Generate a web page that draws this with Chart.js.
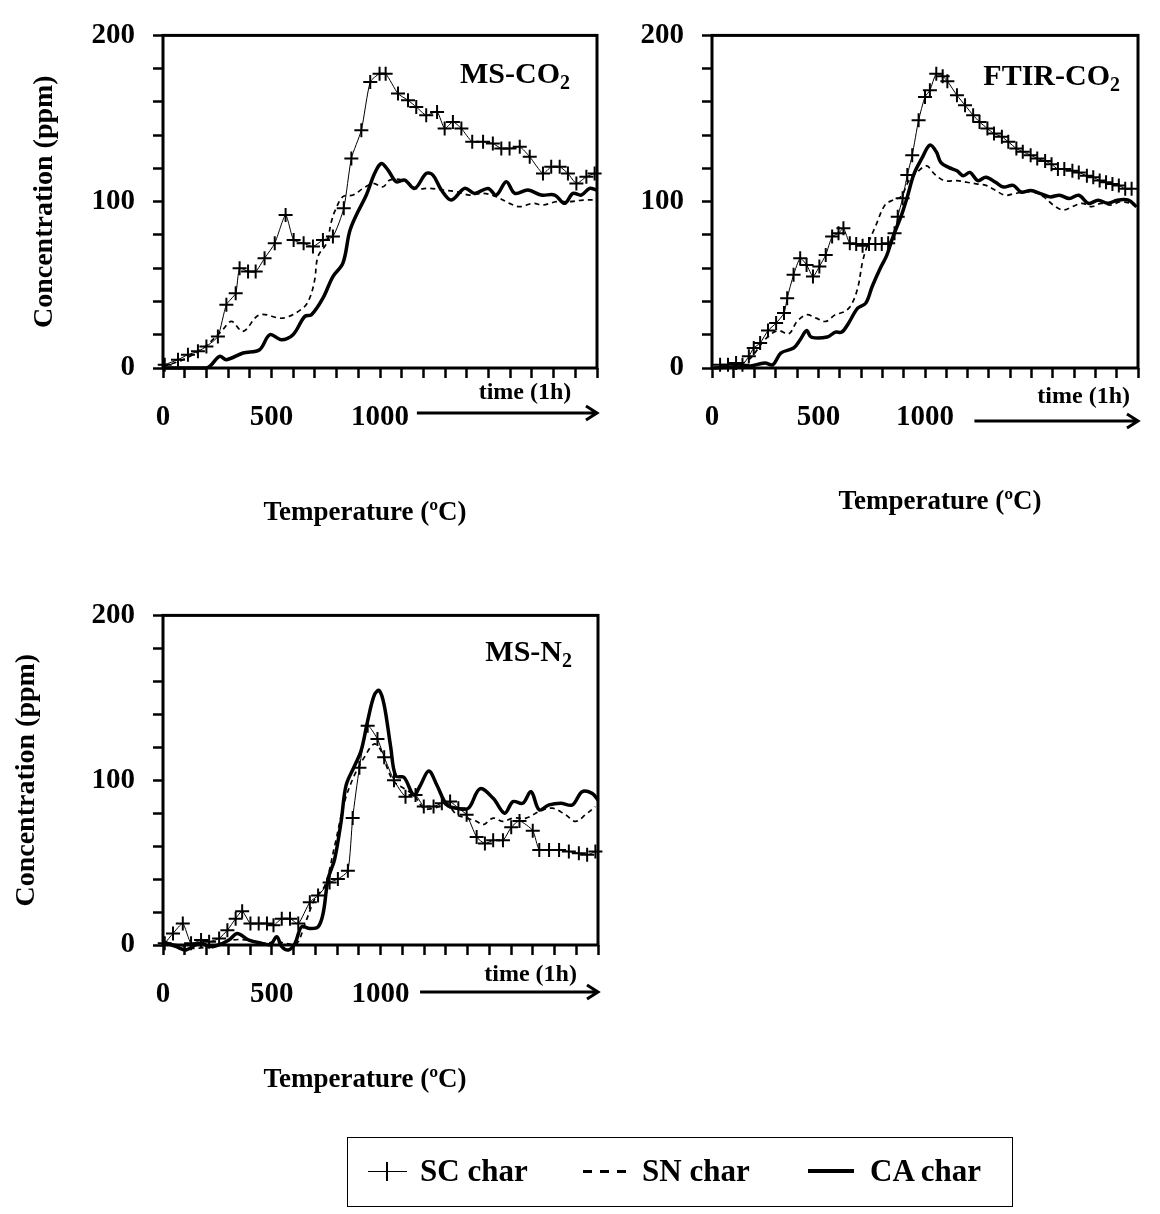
<!DOCTYPE html>
<html>
<head>
<meta charset="utf-8">
<script src="https://cdn.jsdelivr.net/npm/chart.js"></script>
<style>
  body { margin: 0; background: #fff; width: 1160px; height: 1214px; position: relative; overflow: hidden; font-family: "Liberation Serif", serif; }
  canvas { position: absolute; }
  #legend { position: absolute; left: 347px; top: 1137px; width: 666px; height: 70px; border: 1.5px solid #000; box-sizing: border-box; }
  #legend .txt { position: absolute; top: 17px; font: bold 31px/31px "Liberation Serif", serif; white-space: nowrap; }
  #legend .sym { position: absolute; top: 33px; height: 0; }
  .plus { border-top: 1.5px solid #000; width: 39px; }
  .plus::after { content: ""; position: absolute; left: 18px; top: -10px; width: 2px; height: 19px; background: #000; }
  .dash { height: 3px !important; margin-top: -1px; width: 44px; background: repeating-linear-gradient(90deg, #000 0 9px, transparent 9px 17px); }
  .solid { height: 4px !important; margin-top: -2px; width: 46px; background: #000; }
</style>
</head>
<body>
<canvas id="c1" width="620" height="560" style="left:0;top:0"></canvas>
<canvas id="c2" width="580" height="560" style="left:580px;top:0"></canvas>
<canvas id="c3" width="620" height="560" style="left:0;top:580px"></canvas>

<div id="legend">
  <span class="sym plus" style="left:20px"></span>
  <span class="txt" style="left:72px">SC char</span>
  <span class="sym dash" style="left:235px"></span>
  <span class="txt" style="left:294px">SN char</span>
  <span class="sym solid" style="left:460px"></span>
  <span class="txt" style="left:522px">CA char</span>
</div>

<script type="text/javascript">
    // axis ticks
    const xLabelled = [0, 500, 1000];
    const yLabelled = [0, 100, 200];

    // MS-CO2
    const msco2ScX = [8, 69, 115, 161, 200, 253, 292, 335, 353, 392, 427, 468, 515, 565, 602, 648, 691, 737, 783, 833, 868, 914, 955, 998, 1026, 1083, 1129, 1167, 1213, 1263, 1298, 1336, 1375, 1425, 1475, 1520, 1559, 1597, 1644, 1690, 1751, 1789, 1828, 1866, 1905, 1951, 1989];
    const msco2ScY = [2, 5, 8, 10, 13, 19, 38, 45, 60, 58, 58, 66, 75, 92, 77, 75, 73, 77, 79, 96, 126, 143, 172, 177, 177, 165, 161, 157, 152, 154, 144, 148, 144, 136, 136, 135, 132, 132, 133, 127, 117, 121, 121, 117, 111, 115, 117];
    const msco2SnX = [0, 92, 184, 269, 315, 369, 445, 553, 645, 676, 699, 714, 753, 776, 791, 829, 876, 922, 968, 1014, 1045, 1106, 1167, 1229, 1290, 1352, 1413, 1475, 1536, 1597, 1644, 1705, 1751, 1813, 1874, 1935, 1997];
    const msco2SnY = [1, 5, 12, 22, 28, 22, 32, 30, 36, 42, 53, 67, 75, 88, 94, 103, 104, 108, 111, 109, 113, 113, 108, 108, 107, 106, 104, 105, 103, 99, 97, 99, 98, 100, 100, 101, 101];
    const msco2CaX = [0, 200, 261, 292, 369, 445, 492, 545, 599, 653, 684, 737, 783, 829, 860, 891, 937, 975, 1006, 1037, 1075, 1114, 1160, 1213, 1244, 1283, 1329, 1390, 1436, 1498, 1536, 1582, 1621, 1682, 1743, 1805, 1851, 1889, 1928, 1966, 1997];
    const msco2CaY = [0, 0, 7, 5, 9, 11, 20, 17, 20, 31, 32, 42, 55, 63, 82, 92, 104, 117, 123, 119, 112, 113, 108, 117, 116, 107, 101, 108, 105, 108, 104, 112, 105, 107, 104, 104, 99, 105, 104, 108, 107];

    // FTIR-CO2
    const ftirScX = [38, 75, 113, 143, 173, 196, 226, 263, 301, 338, 353, 383, 414, 444, 474, 504, 534, 564, 594, 617, 647, 677, 707, 737, 767, 797, 827, 857, 872, 895, 917, 940, 970, 1000, 1023, 1053, 1083, 1105, 1150, 1188, 1226, 1256, 1293, 1324, 1361, 1391, 1429, 1459, 1496, 1527, 1564, 1594, 1624, 1654, 1692, 1722, 1760, 1790, 1820, 1850, 1880, 1910, 1940, 1970];
    const ftirScY = [2, 2, 3, 2, 7, 12, 15, 22.5, 27, 33, 42, 56, 66, 62, 55, 61, 68, 79, 81, 84, 75, 74.5, 73.5, 74.5, 74.5, 74.5, 75, 81, 91, 102, 116, 128, 149, 163, 167, 177, 175.5, 172.5, 164, 158, 152, 148, 144, 141, 139, 136, 132, 130, 128, 126, 124.5, 122.5, 119.6, 119.6, 118.6, 117.6, 115.6, 114.7, 112.7, 111.7, 110.7, 109.8, 107.8, 107.8];
    const ftirSnX = [8, 98, 173, 248, 308, 361, 399, 444, 489, 534, 579, 624, 654, 684, 707, 729, 767, 812, 850, 887, 925, 970, 1008, 1045, 1090, 1150, 1196, 1241, 1286, 1331, 1376, 1421, 1466, 1511, 1557, 1602, 1647, 1692, 1737, 1782, 1827, 1873, 1918, 1963, 2000];
    const ftirSnY = [0, 1, 5, 17, 22.5, 20.6, 28, 32, 30, 28, 32, 34, 38, 48, 64, 73.5, 85, 98, 101, 103, 112.7, 118.6, 121.5, 116.6, 112.7, 112.7, 111.7, 110.7, 109.8, 106.8, 103.9, 104.9, 105.8, 105.8, 102.9, 98, 95, 97, 99, 97, 99, 98, 100, 99, 97];
    const ftirCaX = [8, 173, 248, 286, 323, 383, 414, 444, 466, 541, 579, 609, 639, 684, 722, 752, 790, 820, 850, 887, 917, 948, 985, 1023, 1053, 1075, 1113, 1150, 1180, 1211, 1248, 1286, 1331, 1369, 1414, 1451, 1496, 1542, 1587, 1632, 1677, 1722, 1768, 1813, 1858, 1903, 1955, 1993];
    const ftirCaY = [0, 1, 3, 2, 9, 12, 17, 22.5, 18.6, 18.6, 21.6, 21.6, 26.5, 36, 39, 49, 60, 67.6, 79, 91, 103, 116.6, 126, 134, 130, 123.5, 120.5, 118.6, 115.6, 117.6, 112.7, 114.7, 111.7, 108.8, 109.8, 105.8, 106.8, 104.9, 102.9, 103.9, 101.9, 103.9, 99, 100.9, 99, 100.9, 100.9, 97];

    // MS-N2
    const msn2ScX = [8, 46, 91, 129, 175, 212, 258, 296, 334, 364, 402, 440, 478, 508, 546, 584, 622, 675, 713, 766, 804, 850, 872, 903, 941, 986, 1017, 1062, 1115, 1161, 1199, 1244, 1282, 1320, 1358, 1396, 1442, 1480, 1518, 1563, 1601, 1639, 1700, 1730, 1775, 1821, 1866, 1912, 1950, 1988];
    const msn2ScY = [1, 7, 13, 1, 3, 2, 4, 9, 16, 20.5, 13, 13, 13, 12, 16, 16, 13, 26, 30, 38, 40, 45, 77, 107.5, 133, 125, 114, 100, 90, 91, 84, 84, 86, 87, 83, 79, 65.5, 61.6, 63.5, 63.5, 71.4, 75.3, 69.4, 57.7, 57.7, 57.7, 56.7, 55.7, 54.7, 56.7];
    const msn2SnX = [0, 76, 137, 212, 319, 395, 470, 516, 607, 653, 698, 744, 789, 835, 880, 926, 971, 1002, 1032, 1062, 1108, 1153, 1199, 1244, 1305, 1351, 1396, 1442, 1472, 1518, 1563, 1609, 1669, 1730, 1791, 1851, 1897, 1942, 1988];
    const msn2SnY = [1, 0, -2, -1, 3, 3, 1, 2, 0, 13, 28, 36, 60, 87, 103, 114, 122, 118, 107, 99, 95, 91, 83, 83, 85, 79, 77, 75, 73, 77, 75, 77, 77, 81, 83, 79, 75, 79, 84];
    const msn2CaX = [0, 61, 106, 167, 228, 303, 341, 395, 455, 493, 523, 546, 577, 607, 637, 675, 713, 736, 759, 789, 819, 842, 880, 911, 941, 971, 994, 1017, 1047, 1070, 1108, 1153, 1183, 1222, 1260, 1305, 1351, 1404, 1457, 1518, 1571, 1609, 1654, 1692, 1730, 1775, 1829, 1882, 1927, 1973, 2000];
    const msn2CaY = [2, -1, -3, 1, -1, 3, 7, 3, 1, 0, 5, -1, -3, 1, 11, 10, 11, 19, 40, 52, 75, 97, 108.5, 118, 136, 151.5, 154.5, 145.6, 120, 102.6, 101.7, 91, 96.8, 105.6, 96.8, 85, 83, 83, 94.8, 89, 80, 87, 86, 93, 82, 85, 86, 85, 93, 92, 88];

    const FONT = "Liberation Serif";

    function toXY(xs, ys) {
        return xs.map((x, i) => ({ x: x, y: ys[i] }));
    }

    // frame, panel label, time arrow and x title
    const decor = {
        id: "decor",
        beforeDatasetsDraw(chart, args, o) {
            const a = chart.chartArea, ctx = chart.ctx;
            ctx.save();
            ctx.strokeStyle = "#000";
            ctx.lineWidth = 3;
            ctx.strokeRect(a.left, a.top, a.right - a.left, a.bottom - a.top);
            ctx.restore();
        },
        afterDraw(chart, args, o) {
            const a = chart.chartArea, ctx = chart.ctx, xs = chart.scales.x;
            ctx.save();
            ctx.fillStyle = "#000";
            ctx.strokeStyle = "#000";

            // panel label with subscript
            ctx.font = "bold 30px '" + FONT + "'";
            const w1 = ctx.measureText(o.label).width;
            ctx.font = "bold 20px '" + FONT + "'";
            const w2 = ctx.measureText(o.sub).width;
            const lx = a.right - o.labelRight - w1 - w2;
            const ly = a.top + o.labelTop;
            ctx.textAlign = "left";
            ctx.textBaseline = "alphabetic";
            ctx.font = "bold 30px '" + FONT + "'";
            ctx.fillText(o.label, lx, ly);
            ctx.font = "bold 20px '" + FONT + "'";
            ctx.fillText(o.sub, lx + w1, ly + 6);

            // time arrow
            const x0 = xs.getPixelForValue(o.arrowFrom), x1 = a.right;
            const ay = a.bottom + o.arrowDy;
            ctx.lineWidth = 3;
            ctx.beginPath();
            ctx.moveTo(x0, ay);
            ctx.lineTo(x1, ay);
            ctx.moveTo(x1 - 11, ay - 7);
            ctx.lineTo(x1, ay);
            ctx.lineTo(x1 - 11, ay + 7);
            ctx.stroke();
            ctx.font = "bold 24px '" + FONT + "'";
            ctx.textAlign = "center";
            ctx.textBaseline = "middle";
            ctx.fillText("time (1h)", xs.getPixelForValue(o.timeAt), a.bottom + o.timeDy);

            // x title
            ctx.font = "bold 27px '" + FONT + "'";
            ctx.fillText("Temperature (ºC)", o.titleX, a.bottom + o.titleDy);
            ctx.restore();
        }
    };

    function panelChart(id, p) {
        return new Chart(document.getElementById(id), {
            type: "line",
            data: {
                datasets: [
                    {
                        label: "SC char",
                        data: toXY(p.sc[0], p.sc[1]),
                        borderColor: "#000",
                        borderWidth: 1,
                        pointStyle: "cross",
                        pointRadius: 7,
                        pointBorderWidth: 2,
                        pointBorderColor: "#000",
                        tension: 0.2,
                        clip: 10
                    },
                    {
                        label: "SN char",
                        data: toXY(p.sn[0], p.sn[1]),
                        borderColor: "#000",
                        borderWidth: 1.7,
                        borderDash: [5, 4],
                        pointRadius: 0,
                        tension: 0.35,
                        clip: 10
                    },
                    {
                        label: "CA char",
                        data: toXY(p.ca[0], p.ca[1]),
                        borderColor: "#000",
                        borderWidth: 3.5,
                        pointRadius: 0,
                        tension: 0.35,
                        clip: 10
                    }
                ]
            },
            options: {
                responsive: false,
                animation: false,
                devicePixelRatio: 1,
                layout: { padding: p.pad },
                plugins: {
                    legend: { display: false },
                    tooltip: { enabled: false },
                    decor: p.decor
                },
                scales: {
                    x: {
                        type: "linear",
                        min: 0,
                        max: 2000,
                        afterFit: s => { s.height = p.xh; },
                        border: { display: false },
                        grid: { drawOnChartArea: false, tickLength: 10, tickWidth: 2.5, color: "#000" },
                        ticks: {
                            stepSize: 100,
                            autoSkip: false,
                            maxRotation: 0,
                            padding: 22,
                            color: "#000",
                            font: { family: FONT, size: 29, weight: "bold" },
                            callback: v => xLabelled.includes(v) ? String(v) : ""
                        }
                    },
                    y: {
                        min: 0,
                        max: 200,
                        afterFit: s => { s.width = p.yw; },
                        border: { display: false },
                        grid: { drawOnChartArea: false, tickLength: 10, tickWidth: 2.5, color: "#000" },
                        ticks: {
                            stepSize: 20,
                            autoSkip: false,
                            padding: 18,
                            color: "#000",
                            font: { family: FONT, size: 29, weight: "bold" },
                            callback: v => yLabelled.includes(v) ? String(v) : ""
                        },
                        title: {
                            display: p.yTitle,
                            text: "Concentration (ppm)",
                            color: "#000",
                            padding: { top: p.yTitlePad, bottom: 0 },
                            font: { family: FONT, size: 28, weight: "bold" }
                        }
                    }
                }
            },
            plugins: [decor]
        });
    }

    panelChart("c1", {
        sc: [msco2ScX, msco2ScY], sn: [msco2SnX, msco2SnY], ca: [msco2CaX, msco2CaY],
        pad: { top: 25, right: 23, left: 0, bottom: 0 }, yw: 163, xh: 192,
        yTitle: true, yTitlePad: 28,
        decor: { label: "MS-CO", sub: "2", labelRight: 27, labelTop: 48, arrowFrom: 1170, arrowDy: 45, timeAt: 1668, timeDy: 25, titleX: 365, titleDy: 145 }
    });

    panelChart("c2", {
        sc: [ftirScX, ftirScY], sn: [ftirSnX, ftirSnY], ca: [ftirCaX, ftirCaY],
        pad: { top: 28, right: 5, left: 0, bottom: 0 }, yw: 132, xh: 192,
        yTitle: false, yTitlePad: 0,
        decor: { label: "FTIR-CO", sub: "2", labelRight: 18, labelTop: 50, arrowFrom: 1232, arrowDy: 53, timeAt: 1745, timeDy: 29, titleX: 360, titleDy: 134 }
    });

    panelChart("c3", {
        sc: [msn2ScX, msn2ScY], sn: [msn2SnX, msn2SnY], ca: [msn2CaX, msn2CaY],
        pad: { top: 24, right: 17, left: 0, bottom: 0 }, yw: 163, xh: 195,
        yTitle: true, yTitlePad: 10,
        decor: { label: "MS-N", sub: "2", labelRight: 26, labelTop: 46, arrowFrom: 1182, arrowDy: 47, timeAt: 1690, timeDy: 30, titleX: 365, titleDy: 135 }
    });
</script>
</body>
</html>
